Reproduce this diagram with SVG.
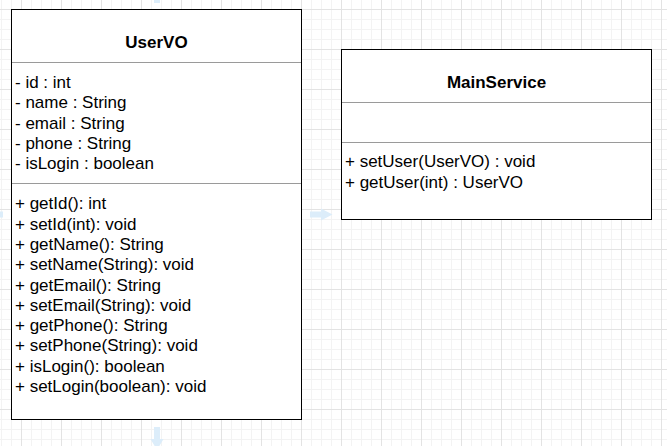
<svg xmlns="http://www.w3.org/2000/svg" width="667" height="446" viewBox="0 0 667 446">
  <style>
    .box { fill: #ffffff; stroke: #000000; stroke-width: 1; }
    .div { stroke: #9a9a9a; stroke-width: 1; fill: none; }
    .title { font-family: "Liberation Sans", Arial, sans-serif; font-size: 17px; font-weight: bold; fill: #000; text-anchor: middle; }
    .item { font-family: "Liberation Sans", Arial, sans-serif; font-size: 17px; fill: #000; }
    .hint { fill: #dcedfa; }
  </style>
  <defs>
    <pattern id="grid" patternUnits="userSpaceOnUse" x="21" y="9" width="40" height="40">
      <rect x="0" y="0" width="40" height="40" fill="#ffffff"/>
      <rect x="10" y="0" width="1" height="40" fill="#f3f3f3"/>
      <rect x="20" y="0" width="1" height="40" fill="#f3f3f3"/>
      <rect x="30" y="0" width="1" height="40" fill="#f3f3f3"/>
      <rect x="0" y="10" width="40" height="1" fill="#f3f3f3"/>
      <rect x="0" y="20" width="40" height="1" fill="#f3f3f3"/>
      <rect x="0" y="30" width="40" height="1" fill="#f3f3f3"/>
      <rect x="0" y="0" width="1" height="40" fill="#e3e3e3"/>
      <rect x="0" y="0" width="40" height="1" fill="#e3e3e3"/>
    </pattern>
  </defs>
  <rect x="0" y="0" width="667" height="446" fill="url(#grid)"/>

  <g id="connectors">
    <g id="hover-arrows">
      <path class="hint" d="M310,211.5 H321 V208.5 L332.5,214.5 L321,220.5 V217.5 H310 Z"/>
      <path class="hint" d="M154,427 V439 H150.5 L157,450 L163.5,439 H160 V427 Z"/>
      <path class="hint" d="M154,3 V-9 H150.5 L157,-20 L163.5,-9 H160 V3 Z"/>
      <path class="hint" d="M3,211.5 H-8 V208.5 L-19.5,214.5 L-8,220.5 V217.5 H3 Z"/>
    </g>
  </g>

  <g id="UserVO">
    <rect class="box" x="11.5" y="9.5" width="290" height="410"/>
    <line class="div" x1="12" y1="62.5" x2="301" y2="62.5"/>
    <line class="div" x1="12" y1="183.5" x2="301" y2="183.5"/>
    <text class="title" x="156.5" y="48">UserVO</text>
    <text class="item" x="15" y="88">- id : int</text>
    <text class="item" x="15" y="108.3">- name : String</text>
    <text class="item" x="15" y="128.6">- email : String</text>
    <text class="item" x="15" y="148.9">- phone : String</text>
    <text class="item" x="15" y="169.2">- isLogin : boolean</text>
    <text class="item" x="15" y="209.3">+ getId(): int</text>
    <text class="item" x="15" y="229.6">+ setId(int): void</text>
    <text class="item" x="15" y="249.9">+ getName(): String</text>
    <text class="item" x="15" y="270.2">+ setName(String): void</text>
    <text class="item" x="15" y="290.5">+ getEmail(): String</text>
    <text class="item" x="15" y="310.8">+ setEmail(String): void</text>
    <text class="item" x="15" y="331.1">+ getPhone(): String</text>
    <text class="item" x="15" y="351.4">+ setPhone(String): void</text>
    <text class="item" x="15" y="371.7">+ isLogin(): boolean</text>
    <text class="item" x="15" y="392">+ setLogin(boolean): void</text>
  </g>

  <g id="MainService">
    <rect class="box" x="341.5" y="49.5" width="310" height="170"/>
    <line class="div" x1="342" y1="102.5" x2="651" y2="102.5"/>
    <line class="div" x1="342" y1="142.5" x2="651" y2="142.5"/>
    <text class="title" x="496.5" y="88.3">MainService</text>
    <text class="item" x="345" y="167">+ setUser(UserVO) : void</text>
    <text class="item" x="345" y="187.5">+ getUser(int) : UserVO</text>
  </g>
</svg>
